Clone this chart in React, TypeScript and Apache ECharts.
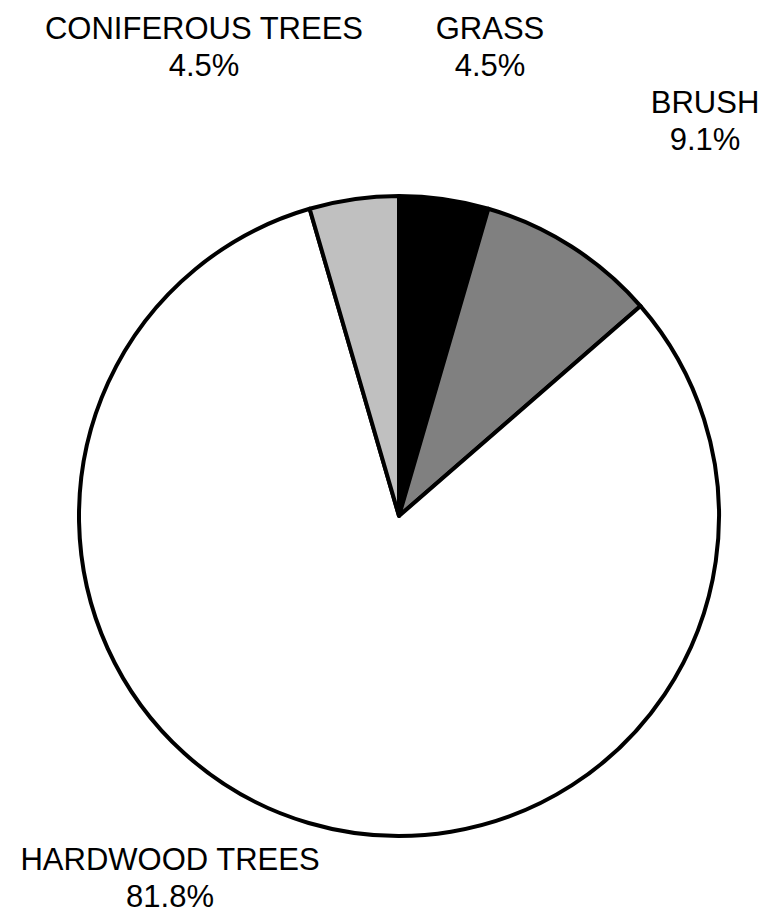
import React, { useEffect, useRef } from "react";
import * as echarts from "echarts";

const categories = ["GRASS", "BRUSH", "HARDWOOD TREES", "CONIFEROUS TREES"];
const percentValues = [4.5, 9.1, 81.8, 4.5];
const sliceColors = ["#000000", "#808080", "#ffffff", "#c0c0c0"];

// label anchor positions (centre of the two-line label block), in pixels
const labelPositions: [number, number][] = [
  [490, 47],
  [705, 121],
  [170, 878],
  [204, 47],
];

export default function App() {
  const ref = useRef<HTMLDivElement>(null);

  useEffect(() => {
    document.body.style.margin = "0";
    if (!ref.current) return;
    const chart = echarts.init(ref.current, null, { renderer: "svg" });
    chart.setOption({
      animation: false,
      backgroundColor: "#ffffff",
      series: [
        {
          type: "pie",
          center: [399, 516],
          radius: [0, 320],
          startAngle: 90,
          clockwise: true,
          avoidLabelOverlap: false,
          data: categories.map((name, i) => ({
            name,
            value: percentValues[i],
            itemStyle: { color: sliceColors[i] },
          })),
          itemStyle: { borderColor: "#000000", borderWidth: 4 },
          label: {
            show: true,
            position: "outside",
            formatter: (p: any) => `${p.name}\n${p.value.toFixed(1)}%`,
            fontFamily: "Liberation Sans, Arial, sans-serif",
            fontSize: 31,
            lineHeight: 37,
            color: "#000000",
            align: "center",
          },
          labelLine: { show: false },
          labelLayout: (params: any) => {
            const pos = labelPositions[params.dataIndex];
            return {
              x: pos[0],
              y: pos[1],
              align: "center",
              verticalAlign: "middle",
            };
          },
          emphasis: { disabled: true },
        },
      ],
    });
    return () => chart.dispose();
  }, []);

  return <div ref={ref} style={{ width: 768, height: 916 }} />;
}
